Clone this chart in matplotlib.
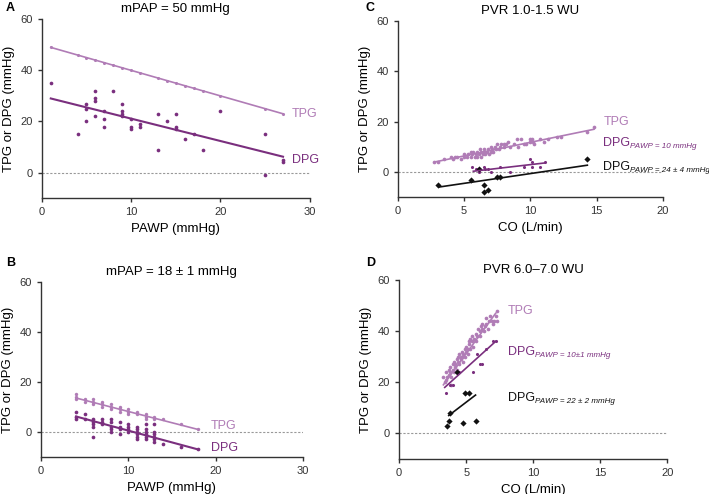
import numpy as np
import matplotlib.pyplot as plt

plt.rcParams['font.family'] = ['Liberation Sans', 'DejaVu Sans']

TPG_C = '#b07cb6'
DPG_C = '#7a2f7e'
BLK = '#111111'

# ---- panel A: mPAP = 50 mmHg
a_tpg_x = [1, 4, 5, 6, 7, 8, 9, 10, 11, 13, 14, 15, 16, 17, 18, 20, 25, 27]
a_tpg_y = [49, 46, 45, 44, 43, 42, 41, 40, 39, 37, 36, 35, 34, 33, 32, 30, 25, 23]
a_dpg_x = [1, 4, 5, 5, 5, 6, 6, 6, 6, 7, 7, 7, 8, 9, 9, 9, 9, 10, 10, 10,
           11, 11, 13, 13, 14, 15, 15, 15, 16, 17, 18, 20, 25, 25, 27, 27]
a_dpg_y = [35, 15, 27, 25, 20, 32, 29, 28, 22, 24, 21, 18, 32, 27, 24, 23, 22, 21, 18, 17,
           19, 18, 23, 9, 20, 23, 18, 17, 13, 15, 9, 24, 15, -1, 5, 4]
a_tpg_fit = ([1, 27], [49, 23])
a_dpg_fit = ([1, 27], [29, 6.2])

# ---- panel B: mPAP = 18 +- 1 mmHg
b_tpg_x = [4, 4, 4, 5, 5, 6, 6, 6, 7, 7, 7, 8, 8, 8, 9, 9, 9, 10, 10, 10,
           11, 11, 12, 12, 12, 13, 13, 14, 16, 18]
b_tpg_y = [15, 14, 13, 13, 12, 13, 12, 11, 12, 11, 10, 11, 10, 9, 10, 9, 8, 9, 8, 7,
           8, 7, 7, 6, 5, 6, 5, 5, 3, 1]
b_dpg_x = [4, 4, 4, 5, 5, 6, 6, 6, 6, 6, 7, 7, 7, 8, 8, 8, 8, 8, 9, 9, 9, 9,
           10, 10, 10, 10, 11, 11, 11, 11, 11, 11, 12, 12, 12, 12, 12, 12,
           13, 13, 13, 13, 13, 13, 14, 16, 18]
b_dpg_y = [8, 6, 5, 7, 5, 5, 4, 3, 2, -2, 5, 4, 3, 5, 4, 2, 1, 0, 4, 2, 1, -1,
           3, 2, 1, 0, 2, 1, 0, -1, -2, -3, 3, 1, 0, -1, -2, -3,
           3, 0, -1, -2, -3, -4, -5, -6, -7]
b_tpg_fit = ([4, 18], [13.6, 1])
b_dpg_fit = ([4, 18], [6.2, -7])

# ---- panel C: PVR 1.0-1.5 WU
c_tpg_x = [2.7, 3.0, 3.5, 4.0, 4.2, 4.3, 4.5, 4.8, 5.0, 5.0, 5.2, 5.3, 5.5, 5.5, 5.6, 5.7,
           5.8, 5.9, 6.0, 6.0, 6.1, 6.2, 6.3, 6.3, 6.4, 6.5, 6.5, 6.6, 6.7, 6.8, 6.9, 7.0,
           7.0, 7.1, 7.2, 7.3, 7.4, 7.5, 7.6, 7.7, 7.8, 8.0, 8.0, 8.2, 8.3, 8.5, 8.8, 9.0,
           9.1, 9.3, 9.5, 9.7, 10.0, 10.0, 10.1, 10.2, 10.3, 10.7, 11.0, 11.3, 12.0, 12.3,
           14.3, 14.8]
c_tpg_y = [4, 4, 5, 6, 5, 6, 6, 5, 6, 7, 6, 7, 6, 8, 7, 8,
           6, 7, 8, 6, 7, 9, 8, 6, 7, 8, 9, 7, 8, 9, 7, 10,
           8, 9, 8, 10, 9, 11, 9, 10, 11, 10, 11, 11, 12, 10, 11, 13,
           10, 13, 11, 11, 13, 12, 13, 12, 11, 13, 12, 13, 14, 14,
           16, 18]
c_dpg_x = [5.6, 5.9, 6.1, 6.5, 6.6, 6.8, 7.0, 7.7, 8.5, 9.5, 10.0, 10.1, 10.1, 10.7, 11.1]
c_dpg_y = [2, 1, 0, 2, 1, 1, 0, 2, 0, 2, 5, 4, 2, 2, 4]
c_blk_x = [3.0, 5.5, 6.1, 6.5, 6.5, 6.8, 7.5, 7.7, 14.3]
c_blk_y = [-5, -3, 1, -5, -8, -7, -2, -2, 5]
c_tpg_fit = ([2.8, 14.8], [4, 17])
c_dpg_fit = ([5.7, 11.1], [0.3, 3.6])
c_blk_fit = ([3.1, 14.3], [-6, 2.7])

# ---- panel D: PVR 6.0-7.0 WU
d_tpg_x = [3.3, 3.4, 3.5, 3.5, 3.6, 3.7, 3.7, 3.8, 3.8, 3.9, 3.9, 4.0, 4.0, 4.1, 4.1, 4.2,
           4.2, 4.3, 4.3, 4.4, 4.4, 4.5, 4.5, 4.6, 4.6, 4.7, 4.7, 4.8, 4.8, 4.9, 4.9, 5.0,
           5.0, 5.1, 5.1, 5.2, 5.2, 5.3, 5.3, 5.4, 5.4, 5.5, 5.6, 5.7, 5.7, 5.8, 5.9, 6.0,
           6.0, 6.1, 6.2, 6.2, 6.3, 6.4, 6.5, 6.5, 6.6, 6.7, 6.8, 6.9, 7.0, 7.1, 7.2, 7.3, 7.3]
d_tpg_y = [22, 20, 24, 21, 22, 25, 23, 24, 26, 22, 19, 27, 25, 28, 24, 26,
           27, 29, 25, 30, 28, 31, 27, 30, 29, 32, 30, 31, 28, 33, 30, 32,
           34, 33, 31, 35, 36, 37, 33, 36, 38, 34, 37, 39, 36, 38, 41, 40,
           38, 42, 41, 43, 40, 42, 45, 43, 41, 44, 46, 44, 43, 44, 46, 48, 44]
d_dpg_x = [3.5, 3.8, 4.0, 4.3, 4.5, 5.5, 5.8, 6.0, 6.2, 6.5, 7.0, 7.2]
d_dpg_y = [16, 19, 19, 24, 24, 24, 31, 27, 27, 33, 36, 36]
d_blk_x = [3.6, 3.7, 3.8, 4.3, 4.8, 4.9, 5.2, 5.7]
d_blk_y = [3, 5, 8, 24, 4, 16, 16, 5]
d_tpg_fit = ([3.3, 7.2], [19, 47])
d_dpg_fit = ([3.4, 7.2], [18, 36])
d_blk_fit = ([3.7, 5.7], [7, 15])

fig = plt.figure(figsize=(7.09, 4.94), dpi=100)
axA = fig.add_axes([0.059, 0.599, 0.378, 0.362])
axC = fig.add_axes([0.561, 0.601, 0.374, 0.356])
axB = fig.add_axes([0.058, 0.075, 0.369, 0.354])
axD = fig.add_axes([0.563, 0.071, 0.378, 0.362])


def style(ax, xmax, xstep, title, xlabel):
    ax.set_xlim(0, xmax)
    ax.set_ylim(-10, 60)
    ax.set_xticks(np.arange(0, xmax + 1, xstep))
    ax.set_yticks([0, 20, 40, 60])
    for s in ['top', 'right']:
        ax.spines[s].set_visible(False)
    for s in ['left', 'bottom']:
        ax.spines[s].set_linewidth(1.0)
        ax.spines[s].set_color('#333333')
    ax.tick_params(direction='out', length=3, width=1, labelsize=8, colors='#333333')
    ax.axhline(0, color='#999999', lw=0.8, ls=(0, (2, 1.5)), zorder=0)
    ax.set_title(title, fontsize=9.5, pad=5)
    ax.set_xlabel(xlabel, fontsize=9.5, labelpad=4)
    ax.set_ylabel('TPG or DPG (mmHg)', fontsize=9.5, labelpad=4)
    ax.patch.set_visible(False)


def dpg_label(ax, x, y, sub, color):
    t = ax.text(x, y, 'DPG', color=color, fontsize=9, va='center')
    ax.annotate(sub, xy=(1, 0.2), xycoords=t, color=color, fontsize=5.8,
                style='italic', va='center', ha='left')


# A
style(axA, 30, 10, 'mPAP = 50 mmHg', 'PAWP (mmHg)')
axA.scatter(a_tpg_x, a_tpg_y, s=5, color=TPG_C, lw=0)
axA.scatter(a_dpg_x, a_dpg_y, s=7, color=DPG_C, lw=0)
axA.plot(*a_tpg_fit, color=TPG_C, lw=1.2)
axA.plot(*a_dpg_fit, color=DPG_C, lw=1.5)
axA.text(28, 23, 'TPG', color=TPG_C, fontsize=9, va='center')
axA.text(28, 5, 'DPG', color=DPG_C, fontsize=9, va='center')

# B
style(axB, 30, 10, 'mPAP = 18 ± 1 mmHg', 'PAWP (mmHg)')
axB.scatter(b_tpg_x, b_tpg_y, s=6, color=TPG_C, lw=0)
axB.scatter(b_dpg_x, b_dpg_y, s=7, color=DPG_C, lw=0)
axB.plot(*b_tpg_fit, color=TPG_C, lw=1.2)
axB.plot(*b_dpg_fit, color=DPG_C, lw=1.5)
axB.text(19.5, 2.5, 'TPG', color=TPG_C, fontsize=9, va='center')
axB.text(19.5, -6.5, 'DPG', color=DPG_C, fontsize=9, va='center')

# C
style(axC, 20, 5, 'PVR 1.0-1.5 WU', 'CO (L/min)')
axC.scatter(c_tpg_x, c_tpg_y, s=7, color=TPG_C, lw=0)
axC.scatter(c_dpg_x, c_dpg_y, s=5, color=DPG_C, lw=0)
axC.scatter(c_blk_x, c_blk_y, s=10, color=BLK, marker='D', lw=0)
axC.plot(*c_tpg_fit, color=TPG_C, lw=1.2)
axC.plot(*c_dpg_fit, color=DPG_C, lw=1.2)
axC.plot(*c_blk_fit, color=BLK, lw=1.2)
axC.text(15.5, 20, 'TPG', color=TPG_C, fontsize=9, va='center')
dpg_label(axC, 15.5, 11.5, 'PAWP = 10 mmHg', DPG_C)
dpg_label(axC, 15.5, 2, 'PAWP = 24 ± 4 mmHg', BLK)

# D
style(axD, 20, 5, 'PVR 6.0–7.0 WU', 'CO (L/min)')
axD.scatter(d_tpg_x, d_tpg_y, s=7, color=TPG_C, lw=0)
axD.scatter(d_dpg_x, d_dpg_y, s=5, color=DPG_C, lw=0)
axD.scatter(d_blk_x, d_blk_y, s=10, color=BLK, marker='D', lw=0)
axD.plot(*d_tpg_fit, color=TPG_C, lw=1.2)
axD.plot(*d_dpg_fit, color=DPG_C, lw=1.2)
axD.plot(*d_blk_fit, color=BLK, lw=1.2)
axD.text(8.1, 48, 'TPG', color=TPG_C, fontsize=9, va='center')
dpg_label(axD, 8.1, 32, 'PAWP = 10±1 mmHg', DPG_C)
dpg_label(axD, 8.1, 14, 'PAWP = 22 ± 2 mmHg', BLK)

for lbl, x, y in [('A', 6, 8), ('B', 6, 263), ('C', 366, 8), ('D', 366, 263)]:
    fig.text(x / 709, 1 - y / 494, lbl, fontsize=9, fontweight='bold', va='center')

fig.savefig('out.png', dpi=100)
